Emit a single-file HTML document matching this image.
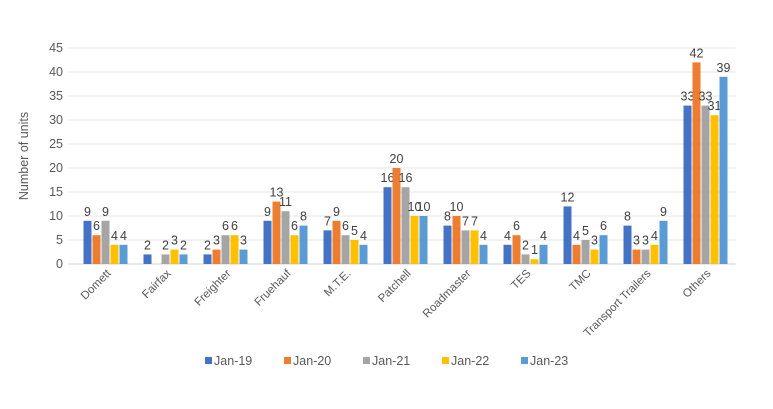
<!DOCTYPE html>
<html><head><meta charset="utf-8"><style>
body{margin:0;background:#fff;font-family:"Liberation Sans",sans-serif}
svg text{font-family:"Liberation Sans",sans-serif;fill:#595959}
</style></head><body>
<svg id="c" width="773" height="404" xmlns="http://www.w3.org/2000/svg"></svg>
<script>
const categories=["Domett","Fairfax","Freighter","Fruehauf","M.T.E.","Patchell","Roadmaster","TES","TMC","Transport Trailers","Others"];
const seriesNames=["Jan-19","Jan-20","Jan-21","Jan-22","Jan-23"];
const jan19=[9,2,2,9,7,16,8,4,12,8,33];
const jan20=[6,null,3,13,9,20,10,6,4,3,42];
const jan21=[9,2,6,11,6,16,7,2,5,3,33];
const jan22=[4,3,6,6,5,10,7,1,3,4,31];
const jan23=[4,2,3,8,4,10,4,4,6,9,39];
const yTicks=[0,5,10,15,20,25,30,35,40,45];
const series=[jan19,jan20,jan21,jan22,jan23];
const colors=["#4472C4","#ED7D31","#A5A5A5","#FFC000","#5B9BD5"];
const svg=document.getElementById('c');const NS="http://www.w3.org/2000/svg";
function mk(t,a,p){const e=document.createElementNS(NS,t);for(const k in a)e.setAttribute(k,a[k]);(p||svg).appendChild(e);return e;}
const x0=75.5,step=60,y0=264,yMax=45,y1=48;
const y=v=>y0-(v/yMax)*(y0-y1);
const cx=i=>x0+step*i+step/2;
const bw=8,bg=1;
yTicks.forEach(t=>{
 const l=mk('line',{x1:x0-7,x2:x0+step*categories.length,y1:y(t),y2:y(t),stroke:t===0?'#d0d0d0':'#e4e4e4','stroke-width':1});
 
 
 const tx=mk('text',{x:63,y:y(t)+4,'text-anchor':'end','font-size':12.5});
 tx.textContent=t;
 
 
});
const at=mk('text',{transform:'translate(28,156) rotate(-90)','text-anchor':'middle','font-size':12.5});
at.textContent='Number of units';


categories.forEach((c,i)=>{
 const gx=cx(i)-(5*bw+4*bg)/2;
 series.forEach((s,j)=>{
  const v=s[i];if(v==null)return;
  const bx=gx+j*(bw+bg);
  const r=mk('rect',{x:bx,y:y(v),width:bw,height:y0-y(v),fill:colors[j]});
  
  
  const t=mk('text',{x:bx+bw/2,y:y(v)-5,'text-anchor':'middle','font-size':12.5,style:'fill:#404040'});
  t.textContent=v;
  
  
 });
 const ct=mk('text',{transform:`translate(${cx(i)+6},${y0+10}) rotate(-45)`,'text-anchor':'end','font-size':11.5});
 ct.textContent=c;
 
 
});
seriesNames.forEach((n,j)=>{
 const lx=205+j*79;
 const g=mk('g',{});
 
 
 mk('rect',{x:lx,y:357,width:7,height:7,fill:colors[j]},g);
 const t=mk('text',{x:lx+9,y:365,'font-size':12.5},g);t.textContent=n;
});
</script>
</body></html>
